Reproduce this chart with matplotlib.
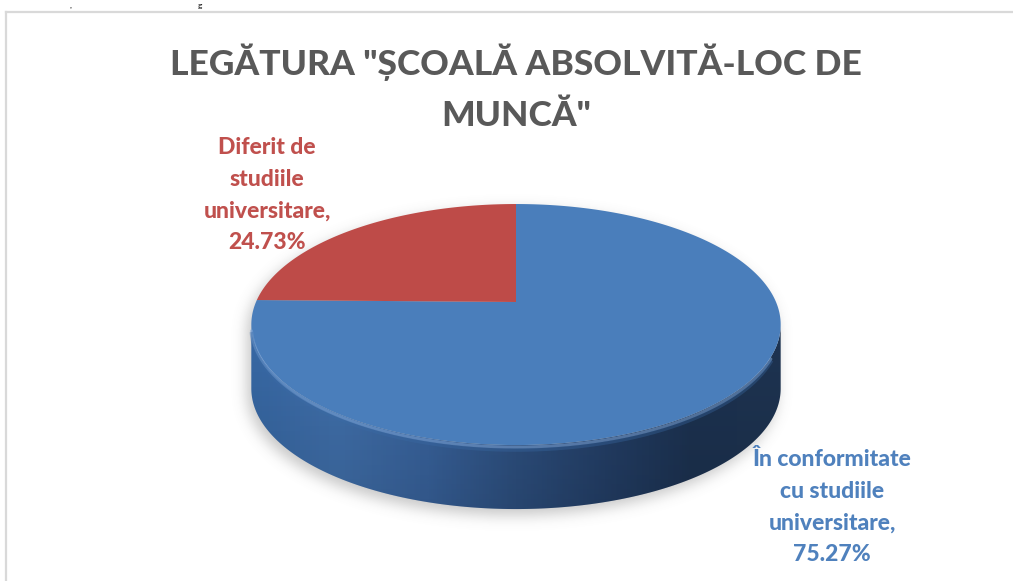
import numpy as np
import matplotlib
matplotlib.use("Agg")
import matplotlib.pyplot as plt
from matplotlib.patches import Polygon
from matplotlib.path import Path
from matplotlib.colors import LinearSegmentedColormap

# ---------------- data ----------------
categories = ["În conformitate cu studiile universitare", "Diferit de studiile universitare"]
values = [75.27, 24.73]
label_lines = [["În conformitate", "cu studiile", "universitare,"],
               ["Diferit de", "studiile", "universitare,"]]
title_text = 'LEGĂTURA "ȘCOALĂ ABSOLVITĂ-LOC DE\nMUNCĂ"'

# ---------------- style ----------------
top_colors = ["#4A7EBB", "#BE4B48"]
label_colors = ["#4F81BD", "#C0504D"]
label_pos = [(832, 507), (267, 195)]
FONT = ["Lato", "DejaVu Sans"]

W, H = 1013, 581
fig = plt.figure(figsize=(W / 100, H / 100), dpi=100)
ax = fig.add_axes([0, 0, 1, 1])
ax.set_xlim(0, W)
ax.set_ylim(H, 0)
ax.axis("off")

xc, yc, rx, ry, a, depth = 516, 302, 260, 116.3, 0.187, 64


def proj(t):
    tr = np.radians(t)
    den = 1 + a * np.sin(tr)
    return xc + rx * np.cos(tr) / den, yc - ry * np.sin(tr) / den


# side silhouette
tl = 180 + np.degrees(np.arcsin(a))
tr_ = 360 - np.degrees(np.arcsin(a))
ts = np.linspace(tl, tr_, 300)
sx, sy = proj(ts)
side_pts = np.column_stack([np.r_[sx, sx[::-1]], np.r_[sy, sy[::-1] + depth]])

# full top ellipse
tall = np.linspace(0, 360, 720)
ex, ey = proj(tall)
top_pts = np.column_stack([ex, ey])

# ---------------- shadow ----------------
yy, xx = np.mgrid[0:H, 0:W]
grid = np.column_stack([xx.ravel() + 0.5, yy.ravel() + 0.5])
shift = np.array([-4, 6])
m1 = Path(side_pts + shift).contains_points(grid)
m2 = Path(top_pts + shift).contains_points(grid)
mask = (m1 | m2).reshape(H, W).astype(float)
sig = 7
kx = np.arange(-3 * sig, 3 * sig + 1)
kern = np.exp(-kx ** 2 / (2 * sig ** 2))
kern /= kern.sum()
blur = np.apply_along_axis(lambda r: np.convolve(r, kern, mode="same"), 1, mask)
blur = np.apply_along_axis(lambda c: np.convolve(c, kern, mode="same"), 0, blur)
shadow = np.zeros((H, W, 4))
shadow[..., :3] = 0.45
shadow[..., 3] = blur * 0.4
ax.imshow(shadow, extent=[0, W, H, 0], zorder=1, interpolation="bilinear")

# ---------------- side with gradient ----------------
side_patch = Polygon(side_pts, closed=True, facecolor="none", edgecolor="none", zorder=2)
ax.add_patch(side_patch)
cmap = LinearSegmentedColormap.from_list(
    "side", ["#3869A6", "#4272AE", "#3A65A0", "#2F5283", "#25416A", "#1D3352", "#1F3553"])
gx = np.linspace(0, 1, 400)
G = np.tile(gx, (100, 1))
img = ax.imshow(G, cmap=cmap, extent=[sx.min() - 2, sx.max() + 2, sy.max() + depth + 2, sy.min() - 2],
                aspect="auto", zorder=2, interpolation="bilinear")
img.set_clip_path(side_patch)
vshade = np.zeros((100, 2, 4))
vshade[..., 3] = np.linspace(0, 0.15, 100)[:, None]
img2 = ax.imshow(vshade, extent=[sx.min() - 2, sx.max() + 2, sy.max() + depth + 2, sy.min() - 2],
                 aspect="auto", zorder=2.1, interpolation="bilinear")
img2.set_clip_path(side_patch)

# ---------------- top face wedges ----------------
cum = np.cumsum([0] + values) / np.sum(values)
for i, v in enumerate(values):
    t_start = 90 - cum[i] * 360
    t_end = 90 - cum[i + 1] * 360
    tt = np.linspace(t_start, t_end, 400)
    wx, wy = proj(tt)
    pts = np.column_stack([np.r_[xc, wx], np.r_[yc, wy]])
    ax.add_patch(Polygon(pts, closed=True, facecolor=top_colors[i], edgecolor="none", zorder=3))

# bevel highlight on the front rim
th = np.linspace(tl + 2, tr_ - 15, 300)
hx, hy = proj(th)
ax.plot(hx, hy + 2, color="#7FA7DA", lw=2.2, alpha=0.55, zorder=4, solid_capstyle="round")
ax.plot(hx, hy + 5, color="#3A6BA6", lw=2.5, alpha=0.35, zorder=4)

# ---------------- labels ----------------
for i, v in enumerate(values):
    txt = "\n".join(label_lines[i] + [f"{v:.2f}%"])
    ax.text(label_pos[i][0], label_pos[i][1], txt, ha="center", va="center",
            color=label_colors[i], fontsize=16.5, fontweight="black", family=FONT,
            linespacing=1.62, zorder=6)

# ---------------- title ----------------
ax.text(516, 88, title_text, ha="center", va="center", color="#595959",
        fontsize=25.5, fontweight="black", family=FONT, linespacing=1.75, zorder=6)

# ---------------- frame ----------------
ax.plot([6, 6], [12, H + 5], color="#D9D9D9", lw=1.6, zorder=5)
ax.plot([6, W + 5], [12, 12], color="#D9D9D9", lw=1.6, zorder=5)

# small fragments of text above the chart
ax.text(70, 8, ",", ha="center", va="baseline", color="black", fontsize=6, family=FONT, zorder=6)
ax.text(200, 8, "g", ha="center", va="baseline", color="black", fontsize=6, family=FONT, zorder=6)

fig.savefig("out.png", dpi=100)
